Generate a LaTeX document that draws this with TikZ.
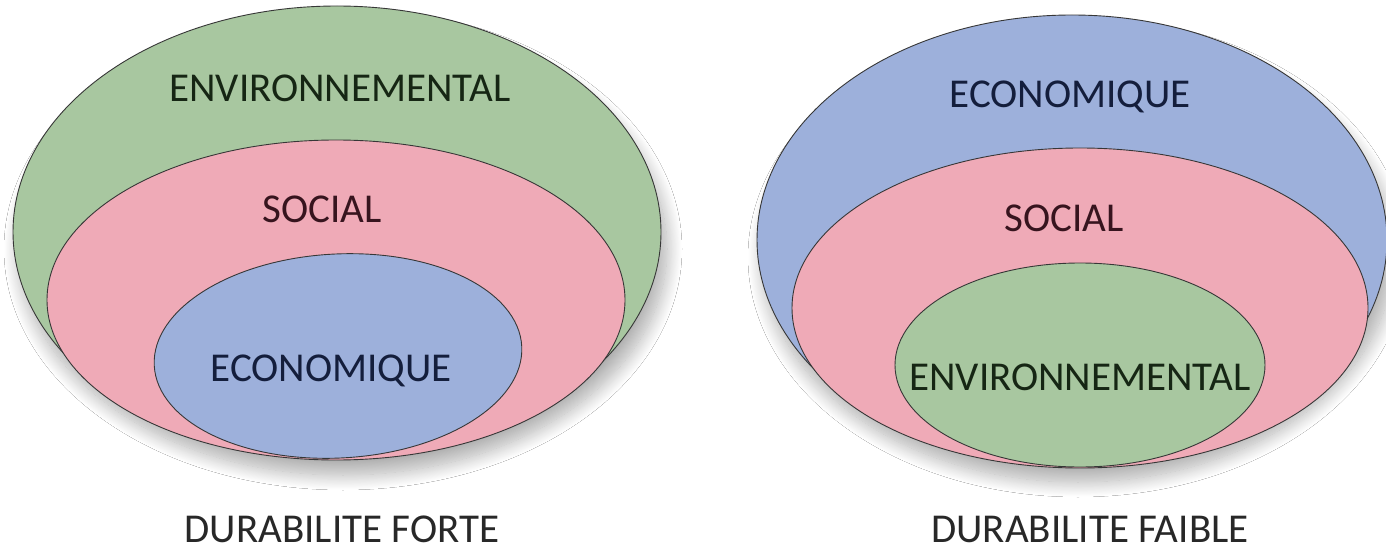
\documentclass[tikz,border=0pt]{standalone}
\usepackage{fontspec}
\setmainfont{Carlito}
\usetikzlibrary{shadows.blur}
\definecolor{envfill}{RGB}{168,199,160}
\definecolor{socfill}{RGB}{239,170,183}
\definecolor{ecofill}{RGB}{157,176,219}
\definecolor{envtext}{RGB}{22,38,20}
\definecolor{soctext}{RGB}{55,20,30}
\definecolor{ecotext}{RGB}{20,30,60}
\definecolor{edgecol}{RGB}{55,55,55}
\definecolor{captext}{RGB}{40,40,40}
\tikzset{
  ringshape/.style={draw=edgecol, line width=0.9pt},
  outershape/.style={ringshape, blur shadow={shadow xshift=6pt, shadow yshift=-17pt, shadow blur radius=15pt, shadow blur steps=20, shadow opacity=32}},
  lbl/.style={anchor=base, inner sep=0pt, font=\fontsize{41}{45}\selectfont},
  captionlbl/.style={lbl, text=captext}
}
\begin{document}
\begin{tikzpicture}[x=1pt,y=1pt]
\useasboundingbox (0,0) rectangle (1386,550);
\fill[white] (0,0) rectangle (1386,550);
% left diagram: strong sustainability
\path[outershape, fill=envfill] (337,318) ellipse [x radius=324, y radius=226];
\path[ringshape, fill=socfill] (336,250) ellipse [x radius=289, y radius=160];
\path[ringshape, fill=ecofill, rotate around={3:(338,194)}] (338,194) ellipse [x radius=184, y radius=102];
\node[lbl, text=envtext] (lenv) at (340,448) {ENVIRONNEMENTAL};
\node[lbl, text=soctext] (lsoc) at (322,328) {SOCIAL};
\node[lbl, text=ecotext] (leco) at (331,169) {ECONOMIQUE};
\node[captionlbl] (lcap) at (342,8) {DURABILITE FORTE};
% right diagram: weak sustainability
\path[outershape, fill=ecofill] (1072,310) ellipse [x radius=315, y radius=225];
\path[ringshape, fill=socfill] (1080,242) ellipse [x radius=288, y radius=160];
\path[ringshape, fill=envfill] (1080,185) ellipse [x radius=185, y radius=102];
\node[lbl, text=ecotext] (reco) at (1070,442) {ECONOMIQUE};
\node[lbl, text=soctext] (rsoc) at (1064,319) {SOCIAL};
\node[lbl, text=envtext] (renv) at (1080,160) {ENVIRONNEMENTAL};
\node[captionlbl] (rcap) at (1090,8) {DURABILITE FAIBLE};
\end{tikzpicture}
\end{document}
